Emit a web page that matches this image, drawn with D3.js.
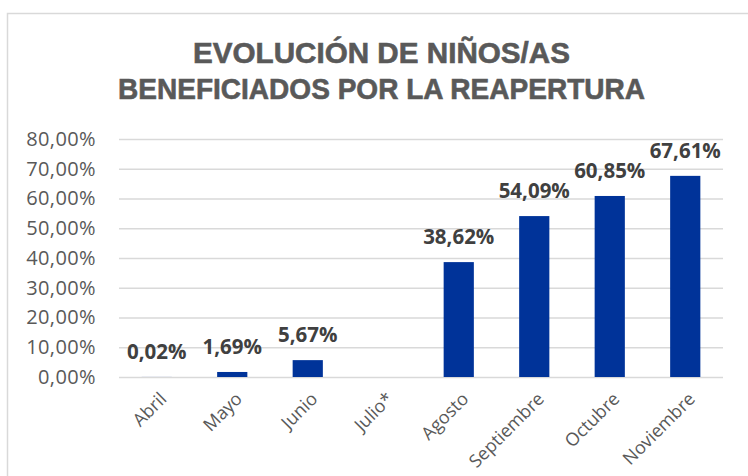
<!DOCTYPE html>
<html>
<head>
<meta charset="utf-8">
<script src="https://cdn.jsdelivr.net/npm/d3@7"></script>
<style>
  html, body { margin: 0; padding: 0; background: #ffffff; }
  svg { display: block; }
</style>
</head>
<body>
<div id="chart"></div>
<script>
// datos
var meses = ["Abril", "Mayo", "Junio", "Julio*", "Agosto", "Septiembre", "Octubre", "Noviembre"];
var porcentajes = [0.02, 1.69, 5.67, null, 38.62, 54.09, 60.85, 67.61];
var ticksY = [0, 10, 20, 30, 40, 50, 60, 70, 80];
var tituloLineas = ["EVOLUCIÓN DE NIÑOS/AS", "BENEFICIADOS POR LA REAPERTURA"];

var width = 748,
    height = 476;

var margin = { top: 139, right: 25, bottom: 99, left: 119 };

var svg = d3.select("#chart")
    .append("svg")
    .attr("width", width)
    .attr("height", height);

// marco del grafico
svg.append("rect")
    .attr("x", 7.5)
    .attr("y", 13.5)
    .attr("width", width + 20)
    .attr("height", height + 20)
    .attr("fill", "#ffffff")
    .attr("stroke", "#d9d9d9")
    .attr("stroke-width", 1.5);

// titulo
var anchoTitulo = [377, 527];
svg.append("g")
    .selectAll("text")
    .data(tituloLineas)
    .enter().append("text")
      .attr("x", 381.5)
      .attr("y", function (d, i) { return 63 + i * 35.5; })
      .attr("text-anchor", "middle")
      .attr("textLength", function (d, i) { return anchoTitulo[i]; })
      .attr("lengthAdjust", "spacingAndGlyphs")
      .style("font-family", "'Liberation Sans Narrow', 'Liberation Sans', Arial, sans-serif")
      .style("font-weight", "bold")
      .style("font-size", "29px")
      .style("fill", "#595959")
      .style("stroke", "#595959")
      .style("stroke-width", 0.6)
      .text(function (d) { return d; });

var x = d3.scaleBand()
    .domain(meses)
    .range([margin.left, width - margin.right])
    .paddingInner(0.6)
    .paddingOuter(0.3);

var y = d3.scaleLinear()
    .domain([0, 80])
    .range([height - margin.bottom, margin.top]);

var fmt = function (v) { return d3.format(".2f")(v).replace(".", ",") + "%"; };

// lineas de cuadricula
svg.append("g")
    .attr("class", "grid")
    .attr("transform", "translate(" + margin.left + ",0)")
    .call(d3.axisLeft(y)
        .tickValues(ticksY)
        .tickSize(-(width - margin.left - margin.right))
        .tickFormat(""))
    .call(function (g) { g.select(".domain").remove(); })
    .selectAll("line")
      .attr("stroke", "#d9d9d9")
      .attr("stroke-width", 1.5);

// etiquetas eje Y
var ejeY = svg.append("g")
    .attr("transform", "translate(96,0)")
    .call(d3.axisLeft(y).tickValues(ticksY).tickSize(0).tickPadding(0).tickFormat(fmt));
ejeY.select(".domain").remove();
ejeY.selectAll("text")
    .style("font-family", "'Open Sans', sans-serif")
    .style("font-size", "20px")
    .style("letter-spacing", "0.4px")
    .style("fill", "#595959");

// barras
var datos = meses.map(function (m, i) { return { mes: m, valor: porcentajes[i] }; })
    .filter(function (d) { return d.valor !== null; });

svg.append("g")
    .selectAll("rect")
    .data(datos)
    .enter().append("rect")
      .attr("x", function (d) { return x(d.mes); })
      .attr("y", function (d) { return y(d.valor); })
      .attr("width", x.bandwidth())
      .attr("height", function (d) { return y(0) - y(d.valor); })
      .attr("fill", "#003399");

// etiquetas de datos
svg.append("g")
    .selectAll("text")
    .data(datos)
    .enter().append("text")
      .attr("x", function (d) { return x(d.mes) + x.bandwidth() / 2; })
      .attr("y", function (d) { return y(d.valor) - 18; })
      .attr("text-anchor", "middle")
      .style("font-family", "'Open Sans', sans-serif")
      .style("font-weight", "bold")
      .style("font-size", "20.5px")
      .style("fill", "#404040")
      .text(function (d) { return fmt(d.valor); });

// eje X
var ejeX = svg.append("g")
    .attr("transform", "translate(0," + y(0) + ")")
    .call(d3.axisBottom(x).tickSize(0).tickPadding(0));
ejeX.select(".domain").remove();
ejeX.selectAll("text")
    .attr("text-anchor", "end")
    .attr("dy", null)
    .attr("y", null)
    .attr("transform", "translate(11,23) rotate(-45)")
    .style("font-family", "'Open Sans', sans-serif")
    .style("font-size", "18px")
    .style("fill", "#595959");
</script>
</body>
</html>
